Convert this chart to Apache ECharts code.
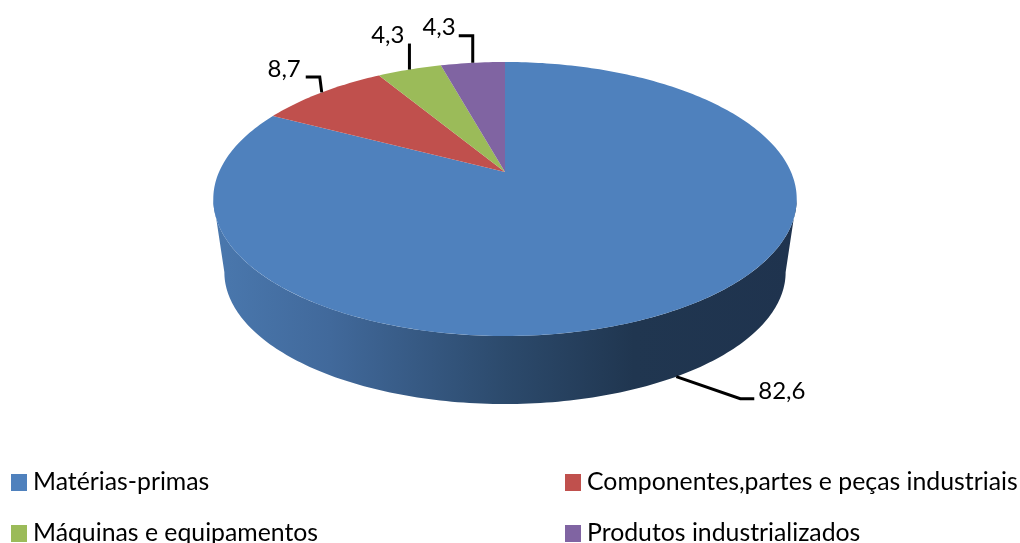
<!DOCTYPE html>
<html>
<head>
<meta charset="utf-8">
<style>html,body{margin:0;padding:0;background:#fff;overflow:hidden}#c{width:1020px;height:543px}</style>
<script src="https://cdn.jsdelivr.net/npm/echarts@6/dist/echarts.min.js"></script>
</head>
<body>
<div id="c"></div>
<script>
const categories = ['Matérias-primas', 'Componentes,partes e peças industriais', 'Máquinas e equipamentos', 'Produtos industrializados'];
const values = [82.6, 8.7, 4.3, 4.3];
const valueLabels = ['82,6', '8,7', '4,3', '4,3'];
const colors = ['#4F81BD', '#C0504D', '#9BBB59', '#8064A2'];

// Leader-line elbows and label anchors, relative to each slice's rim midpoint
const leaderStyle = [
  { knee: [64, 22], end: [78, 22], text: [82, 15], align: 'left' },
  { knee: [-2, -15.5], end: [-16, -15.5], text: [-21, -23], align: 'right' },
  { knee: [0, -26], end: [0, -26], text: [-5, -34], align: 'right' },
  { knee: [0, -27], end: [-14, -27], text: [-17, -36], align: 'right' }
];

// Perspective view of the pie disc
const view = { cx: 505, apexY: 172, b: 97.8, k: 0.197, c: 286, floorScale: 0.962, floorShift: 80.8 };
const total = values.reduce((s, v) => s + v, 0);
const rad = d => d * Math.PI / 180;

function topPoint(deg) {
  const X = Math.sin(rad(deg)), Y = Math.cos(rad(deg));
  const w = 1 + view.k * Y;
  return [view.cx + view.c * X / w, (view.apexY - view.b * Y) / w];
}
function floorPoint(deg) {
  const p = topPoint(deg);
  return [view.cx + view.floorScale * (p[0] - view.cx), p[1] * view.floorScale + view.floorShift];
}
function arc(fn, from, to) {
  const pts = [], n = Math.max(2, Math.ceil(Math.abs(to - from)));
  for (let i = 0; i <= n; i++) pts.push(fn(from + (to - from) * i / n));
  return pts;
}
const sideFrom = Math.acos(-view.k) * 180 / Math.PI;
const sideTo = 360 - sideFrom;

function wallFill() {
  return new echarts.graphic.LinearGradient(213, 0, 797, 0, [
    { offset: 0, color: '#4A78AE' },
    { offset: 0.2, color: '#41699B' },
    { offset: 0.5, color: '#2C4A6C' },
    { offset: 0.72, color: '#203650' },
    { offset: 1, color: '#1F334E' }
  ], true);
}

function renderSlice(idx) {
  return function (params, api) {
    const start = values.slice(0, idx).reduce((s, v) => s + v, 0) / total * 360;
    const end = start + api.value(0) / total * 360;
    const mid = (start + end) / 2;
    const children = [];
    const a = Math.max(start, sideFrom), b = Math.min(end, sideTo);
    if (b > a) {
      children.push({
        type: 'polygon',
        shape: { points: arc(topPoint, a, b).concat(arc(floorPoint, b, a)) },
        style: { fill: wallFill() }
      });
    }
    children.push({
      type: 'polygon',
      shape: { points: [[view.cx, view.apexY]].concat(arc(topPoint, start, end)) },
      style: { fill: colors[idx] }
    });
    const anchor = (mid > sideFrom && mid < sideTo) ? floorPoint(mid) : topPoint(mid);
    const s = leaderStyle[idx];
    const off = o => [anchor[0] + o[0], anchor[1] + o[1]];
    children.push({
      type: 'polyline',
      shape: { points: [anchor, off(s.knee), off(s.end)] },
      style: { stroke: '#000', lineWidth: 3, fill: null, lineJoin: 'miter' }
    });
    const t = off(s.text);
    children.push({
      type: 'text',
      style: {
        x: t[0], y: t[1], text: valueLabels[idx], fill: '#000',
        font: '24px Lato', textAlign: s.align, textVerticalAlign: 'middle'
      }
    });
    return { type: 'group', children };
  };
}

const chart = echarts.init(document.getElementById('c'), null, { renderer: 'canvas' });
const legendBase = {
  orient: 'horizontal', selectedMode: false, itemWidth: 16, itemHeight: 17, padding: 0, itemGap: 0,
  icon: 'rect', itemStyle: { borderWidth: 0 },
  textStyle: { fontFamily: 'Lato', fontSize: 24.8, color: '#000', padding: [0, 0, 0, 1] }
};
const legendAt = (i, left, top) => Object.assign({}, legendBase, { left, top, data: [categories[i]] });
chart.setOption({
  animation: false,
  backgroundColor: '#fff',
  legend: [
    legendAt(0, 11, 470),
    legendAt(2, 11, 521),
    legendAt(1, 565, 470),
    legendAt(3, 565, 521)
  ],
  series: categories.map((name, i) => ({
    type: 'custom',
    name,
    coordinateSystem: 'none',
    silent: true,
    z: i === 0 ? 1 : 2,
    itemStyle: { color: colors[i] },
    renderItem: renderSlice(i),
    data: [[values[i]]]
  }))
});
</script>
</body>
</html>
